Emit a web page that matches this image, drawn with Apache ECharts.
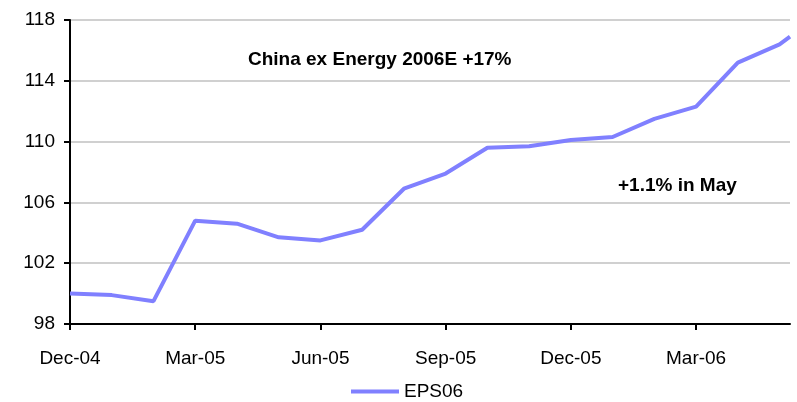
<!DOCTYPE html>
<html>
<head>
<meta charset="utf-8">
<script src="https://cdn.jsdelivr.net/npm/echarts@6/dist/echarts.min.js"></script>
<style>
  html, body { margin: 0; padding: 0; background: #fff; }
  #main { width: 797px; height: 402px; }
</style>
</head>
<body>
<div id="main"></div>
<script>
// month offsets from Dec-04 (last reading is early June 2006)
const monthIndex = [0, 1, 2, 3, 4, 5, 6, 7, 8, 9, 10, 11, 12, 13, 14, 15, 16, 17, 17.25]
const eps06 = [100.0, 99.9, 99.5, 104.8, 104.6, 103.7, 103.5, 104.2, 106.9, 107.9,
  109.6, 109.7, 110.1, 110.3, 111.5, 112.3, 115.2, 116.4, 116.9]
const tickPos = [0, 3, 6, 9, 12, 15]
const tickLabels = ['Dec-04', 'Mar-05', 'Jun-05', 'Sep-05', 'Dec-05', 'Mar-06']
const yTicks = [98, 102, 106, 110, 114, 118]

const font = '"Liberation Sans", Arial, sans-serif'

const chart = echarts.init(document.getElementById('main'))

chart.setOption({
  animation: false,
  textStyle: { fontFamily: font },
  grid: { left: 70, right: 7, top: 20, bottom: 78 },
  legend: {
    data: ['EPS06'],
    icon: 'rect',
    left: 346,
    top: 377,
    itemWidth: 48,
    itemHeight: 4,
    itemGap: 8,
    textStyle: { fontFamily: font, fontSize: 19, color: '#000' }
  },
  xAxis: {
    type: 'value',
    min: 0,
    max: 17.25,
    interval: 3,
    axisLine: { show: true, onZero: false, lineStyle: { color: '#000', width: 2 } },
    axisTick: { show: true, customValues: tickPos, length: 6, lineStyle: { color: '#000', width: 2 } },
    axisLabel: {
      customValues: tickPos,
      formatter: (v) => tickLabels[tickPos.indexOf(v)] || '',
      color: '#000',
      fontSize: 19,
      margin: 25
    },
    splitLine: { show: false }
  },
  yAxis: {
    type: 'value',
    min: yTicks[0],
    max: yTicks[yTicks.length - 1],
    interval: 4,
    axisLine: { show: true, lineStyle: { color: '#000', width: 2 } },
    axisTick: { show: true, length: 6, lineStyle: { color: '#000', width: 2 } },
    axisLabel: { color: '#000', fontSize: 19, margin: 15 },
    splitLine: { show: true, lineStyle: { color: '#c0c0c0', width: 1.5 } }
  },
  series: [{
    name: 'EPS06',
    type: 'line',
    symbol: 'none',
    data: monthIndex.map((m, i) => [m, eps06[i]]),
    lineStyle: { color: '#8080ff', width: 4 },
    itemStyle: { color: '#8080ff' }
  }],
  graphic: [
    {
      type: 'text',
      left: 248,
      top: 50,
      style: { text: 'China ex Energy 2006E +17%', font: 'bold 19px ' + font, fill: '#000' }
    },
    {
      type: 'text',
      left: 618,
      top: 176,
      style: { text: '+1.1% in May', font: 'bold 19px ' + font, fill: '#000' }
    }
  ]
})
</script>
</body>
</html>
